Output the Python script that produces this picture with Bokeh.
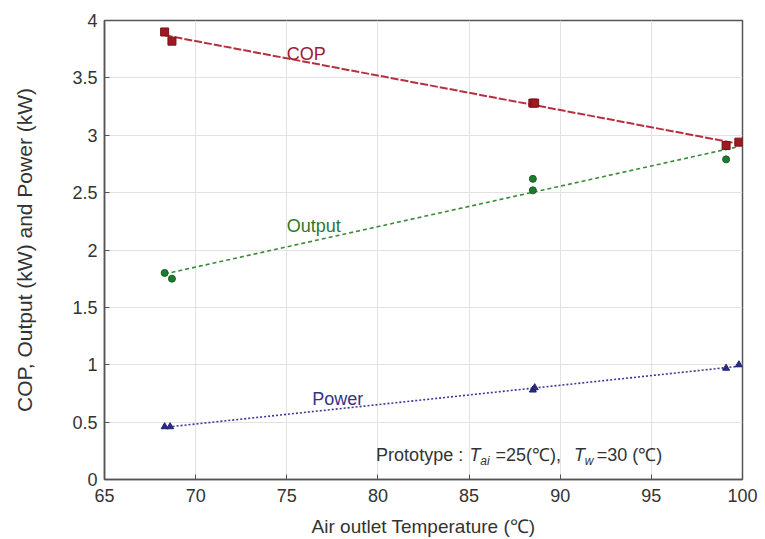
import numpy as np
from bokeh.plotting import figure
from bokeh.models import SingleIntervalTicker, NumeralTickFormatter, Range1d, Label
from bokeh.embed import file_html
from bokeh.resources import INLINE

# ---- data ----
cop_x = [68.3, 68.7, 88.5, 88.6, 99.1, 99.8]
cop_y = [3.90, 3.82, 3.28, 3.28, 2.91, 2.94]
out_x = [68.3, 68.7, 88.5, 88.5, 99.1]
out_y = [1.80, 1.75, 2.62, 2.52, 2.79]
pow_x = [68.3, 68.6, 88.5, 88.6, 99.1, 99.8]
pow_y = [0.46, 0.46, 0.78, 0.80, 0.97, 1.00]
fit_x_range = [68.3, 99.8]

x_label = "Air outlet Temperature (\u2103)"
y_label = "COP, Output (kW) and Power (kW)"

FONT = "Liberation Sans"
TXT = "#333333"

p = figure(width=765, height=539, output_backend="svg", toolbar_location=None,
           x_range=Range1d(65, 100), y_range=Range1d(0, 4),
           min_border_left=104, min_border_right=23, min_border_top=20, min_border_bottom=60)
p.background_fill_color = "white"
p.border_fill_color = "white"
p.outline_line_color = "#555555"
p.outline_line_width = 1.5

for ax in p.xaxis:
    ax.ticker = SingleIntervalTicker(interval=5)
for ax in p.yaxis:
    ax.ticker = SingleIntervalTicker(interval=0.5)
    ax.formatter = NumeralTickFormatter(format="0.[0]")

for ax in list(p.xaxis) + list(p.yaxis):
    ax.major_tick_in = 5
    ax.major_tick_out = 0
    ax.minor_tick_in = 0
    ax.minor_tick_out = 0
    ax.axis_line_color = "#555555"
    ax.axis_line_width = 1.5
    ax.major_tick_line_color = "#555555"
    ax.major_label_text_font = FONT
    ax.major_label_text_font_size = "18px"
    ax.major_label_text_color = TXT
    ax.axis_label_text_font = FONT
    ax.axis_label_text_font_style = "normal"
    ax.axis_label_text_color = TXT

p.xaxis.axis_label = x_label
p.yaxis.axis_label = y_label
p.xaxis.axis_label_text_font_size = "19px"
p.yaxis.axis_label_text_font_size = "21px"
p.xaxis.major_label_standoff = 9
p.yaxis.major_label_standoff = 7
p.xaxis.axis_label_standoff = 11
p.yaxis.axis_label_standoff = 33

p.xgrid.ticker = SingleIntervalTicker(interval=5)
p.ygrid.ticker = SingleIntervalTicker(interval=0.5)
p.grid.grid_line_color = "#e2e2e2"
p.grid.grid_line_width = 1

# fit lines
def fit(xs, ys):
    k, b = np.polyfit(xs, ys, 1)
    fx = np.array(fit_x_range)
    return fx, k * fx + b

fx, fy = fit(cop_x, cop_y)
p.line(fx, fy, line_color="#b83040", line_width=2, line_dash="8 2")
fx, fy = fit(out_x, out_y)
p.line(fx, fy, line_color="#3a8a3a", line_width=1.6, line_dash="4 3")
fx, fy = fit(pow_x, pow_y)
p.line(fx, fy, line_color="#3a3a9a", line_width=1.6, line_dash="2 2")

# markers
p.scatter(cop_x, cop_y, marker="square", size=8, fill_color="#9c1a22", line_color="#7a1018")
p.scatter(out_x, out_y, marker="circle", size=7, fill_color="#1e7a2e", line_color="#156022")
p.scatter(pow_x, pow_y, marker="triangle", size=7, fill_color="#2a2a8a", line_color="#20206a")

# series labels
p.add_layout(Label(x=75.0, y=3.71, text="COP", text_font=FONT, text_font_size="18px",
                   text_color="#9a2030", text_align="left", text_baseline="middle"))
p.add_layout(Label(x=75.0, y=2.21, text="Output", text_font=FONT, text_font_size="18px",
                   text_color="#2a7a2a", text_align="left", text_baseline="middle"))
p.add_layout(Label(x=76.4, y=0.70, text="Power", text_font=FONT, text_font_size="18px",
                   text_color="#33338a", text_align="left", text_baseline="middle"))

# annotation: Prototype : T_ai =25(℃), T_w=30 (℃)
base_y = 0.21
sub_y = 0.16
pieces = [
    (79.9, base_y, "Prototype :", "normal", "18px"),
    (85.03, base_y, "T", "italic", "18px"),
    (85.62, sub_y, "ai", "italic", "12px"),
    (86.45, base_y, "=25(\u2103),", "normal", "18px"),
    (90.75, base_y, "T", "italic", "18px"),
    (91.35, sub_y, "w", "italic", "12px"),
    (92.0, base_y, "=30 (\u2103)", "normal", "18px"),
]
for x, y, t, style, size in pieces:
    p.add_layout(Label(x=x, y=y, text=t, text_font=FONT, text_font_size=size,
                       text_font_style=style, text_color=TXT,
                       text_align="left", text_baseline="alphabetic"))

open("out.html", "w").write(file_html(p, INLINE))
